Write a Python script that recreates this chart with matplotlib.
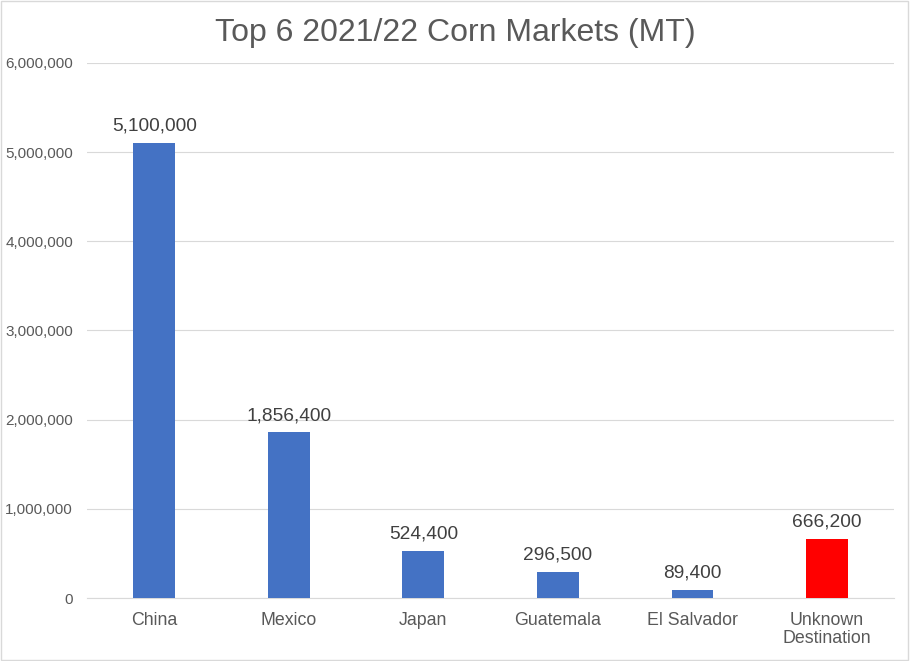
import matplotlib.pyplot as plt
from matplotlib.patches import Rectangle

plt.rcParams['font.family'] = ['Liberation Sans', 'DejaVu Sans']

countries = ['China', 'Mexico', 'Japan', 'Guatemala', 'El Salvador', 'Unknown\nDestination']
volumes = [5100000, 1856400, 524400, 296500, 89400, 666200]
colors = ['#4472C4'] * 5 + ['#FF0000']

fig = plt.figure(figsize=(9.1, 6.61), dpi=100)
ax = fig.add_axes([0.0956, 0.0953, 0.887, 0.8094])

x = range(len(countries))
ax.bar(x, volumes, width=0.31, color=colors, zorder=3)
for i, v in enumerate(volumes):
    ax.annotate(f'{v:,}', (i, v), xytext=(0, 6), textcoords='offset points',
                ha='center', va='bottom', fontsize=13.8, color='#404040')

ax.set_xlim(-0.5, len(countries) - 0.5)
ax.set_ylim(0, 6000000)
ax.set_yticks(range(0, 6000001, 1000000))
ax.set_yticklabels([f'{t:,}' for t in range(0, 6000001, 1000000)])
ax.set_xticks(list(x))
ax.set_xticklabels(countries, linespacing=1.05)
ax.tick_params(axis='y', length=0, labelsize=11, labelcolor='#595959', pad=10)
ax.tick_params(axis='x', length=0, labelsize=12.8, labelcolor='#595959', pad=10)
ax.grid(axis='y', color='#D9D9D9', linewidth=0.8, zorder=0)
for s in ['top', 'right', 'left']:
    ax.spines[s].set_visible(False)
ax.spines['bottom'].set_color('#D9D9D9')

fig.text(0.5, 0.95, 'Top 6 2021/22 Corn Markets (MT)', ha='center', va='center',
         fontsize=23, color='#595959')
fig.patches.append(Rectangle((0.001, 0.001), 0.997, 0.997, transform=fig.transFigure,
                             fill=False, edgecolor='#D9D9D9', linewidth=1))

fig.savefig('out.png', dpi=100)
